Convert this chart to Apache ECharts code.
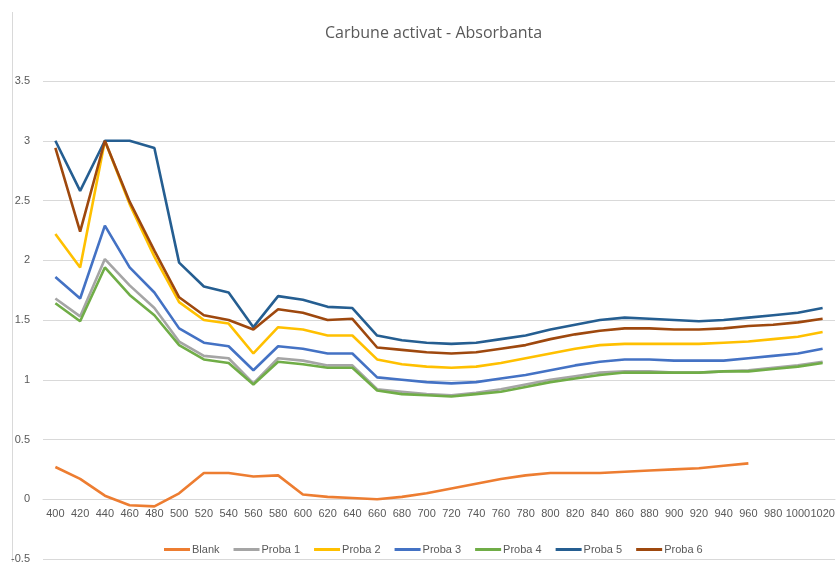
<!DOCTYPE html>
<html>
<head>
<meta charset="utf-8">
<title>Carbune activat - Absorbanta</title>
<script src="https://cdn.jsdelivr.net/npm/echarts@6/dist/echarts.min.js"></script>
<style>
  html, body { margin: 0; padding: 0; background: #fff; }
  #chart { width: 840px; height: 562px; }
</style>
</head>
<body>
<div id="chart"></div>
<script>
// lungimi de unda (nm)
const wavelengths = [400, 420, 440, 460, 480, 500, 520, 540, 560, 580, 600, 620, 640, 660, 680, 700,
  720, 740, 760, 780, 800, 820, 840, 860, 880, 900, 920, 940, 960, 980, 1000, 1020];

const blank = [0.27, 0.17, 0.03, -0.05, -0.06, 0.05, 0.22, 0.22, 0.19, 0.20, 0.04, 0.02, 0.01, 0.00, 0.02, 0.05,
  0.09, 0.13, 0.17, 0.20, 0.22, 0.22, 0.22, 0.23, 0.24, 0.25, 0.26, 0.28, 0.30, null, null, null];
const proba1 = [1.68, 1.53, 2.01, 1.79, 1.60, 1.32, 1.20, 1.18, 0.97, 1.18, 1.16, 1.12, 1.12, 0.92, 0.90, 0.88,
  0.87, 0.89, 0.92, 0.96, 1.00, 1.03, 1.06, 1.07, 1.07, 1.06, 1.06, 1.07, 1.08, 1.10, 1.12, 1.15];
const proba2 = [2.22, 1.94, 3.00, 2.47, 2.03, 1.65, 1.50, 1.47, 1.22, 1.44, 1.42, 1.37, 1.37, 1.17, 1.13, 1.11,
  1.10, 1.11, 1.14, 1.18, 1.22, 1.26, 1.29, 1.30, 1.30, 1.30, 1.30, 1.31, 1.32, 1.34, 1.36, 1.40];
const proba3 = [1.86, 1.68, 2.29, 1.94, 1.73, 1.43, 1.31, 1.28, 1.08, 1.28, 1.26, 1.22, 1.22, 1.02, 1.00, 0.98,
  0.97, 0.98, 1.01, 1.04, 1.08, 1.12, 1.15, 1.17, 1.17, 1.16, 1.16, 1.16, 1.18, 1.20, 1.22, 1.26];
const proba4 = [1.64, 1.49, 1.94, 1.71, 1.54, 1.29, 1.17, 1.14, 0.96, 1.15, 1.13, 1.10, 1.10, 0.91, 0.88, 0.87,
  0.86, 0.88, 0.90, 0.94, 0.98, 1.01, 1.04, 1.06, 1.06, 1.06, 1.06, 1.07, 1.07, 1.09, 1.11, 1.14];
const proba5 = [3.00, 2.58, 3.00, 3.00, 2.94, 1.98, 1.78, 1.73, 1.44, 1.70, 1.67, 1.61, 1.60, 1.37, 1.33, 1.31,
  1.30, 1.31, 1.34, 1.37, 1.42, 1.46, 1.50, 1.52, 1.51, 1.50, 1.49, 1.50, 1.52, 1.54, 1.56, 1.60];
const proba6 = [2.94, 2.24, 3.00, 2.49, 2.08, 1.69, 1.54, 1.50, 1.42, 1.59, 1.56, 1.50, 1.51, 1.27, 1.25, 1.23,
  1.22, 1.23, 1.26, 1.29, 1.34, 1.38, 1.41, 1.43, 1.43, 1.42, 1.42, 1.43, 1.45, 1.46, 1.48, 1.51];

const seriesNames = ['Blank', 'Proba 1', 'Proba 2', 'Proba 3', 'Proba 4', 'Proba 5', 'Proba 6'];
const seriesData = [blank, proba1, proba2, proba3, proba4, proba5, proba6];
const colors = ['#ED7D31', '#A5A5A5', '#FFC000', '#4472C4', '#70AD47', '#255E91', '#9E480E'];

const yMin = -0.5;
const yMax = 3.5;

const textColor = '#595959';
const gridColor = '#D9D9D9';
const narrowFont = 'Liberation Sans Narrow, Liberation Sans, sans-serif';

const gridTop = 81;
const gridBottom = 3;
const plotHeight = 562 - gridTop - gridBottom;
// categoriile stau pe linia de zero, ca in Excel
const zeroOffset = -plotHeight * (0 - yMin) / (yMax - yMin);

const chart = echarts.init(document.getElementById('chart'));
chart.setOption({
  animation: false,
  color: colors,
  title: {
    text: 'Carbune activat - Absorbanta',
    left: 325,
    top: 25,
    padding: 0,
    textStyle: { color: textColor, fontSize: 16, fontWeight: 'normal', fontFamily: 'Open Sans' }
  },
  legend: {
    data: seriesNames,
    top: 539,
    left: 159,
    icon: 'rect',
    itemWidth: 26,
    itemHeight: 3,
    itemGap: 14,
    textStyle: { color: textColor, fontSize: 11, fontFamily: narrowFont, padding: [0, 0, 0, -3] }
  },
  grid: { left: 43, right: 5, top: gridTop, bottom: gridBottom, containLabel: false, outerBoundsMode: 'none' },
  xAxis: {
    type: 'category',
    data: wavelengths,
    boundaryGap: true,
    offset: zeroOffset,
    axisLine: { onZero: false, lineStyle: { color: gridColor } },
    axisTick: { show: false },
    axisLabel: { interval: 0, color: textColor, fontSize: 11, margin: 9, fontFamily: narrowFont },
    splitLine: { show: false }
  },
  yAxis: {
    type: 'value',
    min: yMin,
    max: yMax,
    interval: 0.5,
    axisLine: { show: false },
    axisTick: { show: false },
    axisLabel: { color: textColor, fontSize: 11, margin: 13, fontFamily: 'Liberation Sans, sans-serif' },
    splitLine: { lineStyle: { color: gridColor, width: 1 } }
  },
  graphic: [{
    type: 'line',
    shape: { x1: 12.5, y1: 12, x2: 12.5, y2: 562 },
    style: { stroke: gridColor, lineWidth: 1 }
  }],
  series: seriesNames.map((name, i) => ({
    name: name,
    type: 'line',
    data: seriesData[i],
    smooth: false,
    showSymbol: false,
    symbol: 'none',
    lineStyle: { width: 2.6, color: colors[i] },
    z: 2 + i
  }))
});
</script>
</body>
</html>
